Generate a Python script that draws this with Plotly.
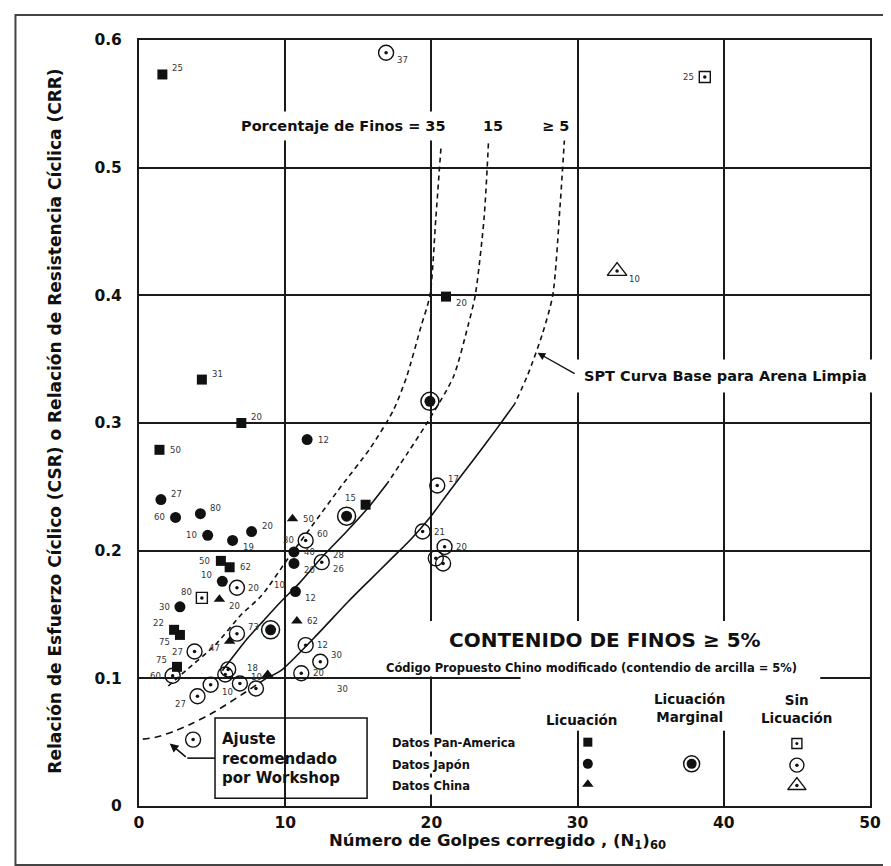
import plotly.graph_objects as go

# ---------------- data ----------------
# Curves: (N1)60 vs CRR
c35_n = [20.65, 20.3, 19.9, 19.3, 18.3, 17.4, 15.8, 13.8, 12.0, 10.2, 8.4, 7.0, 5.2, 3.2, 1.8]
c35_crr = [0.515, 0.46, 0.40, 0.376, 0.336, 0.310, 0.280, 0.250, 0.222, 0.194, 0.165, 0.150, 0.126, 0.106, 0.092]

c15_dash_n = [23.9, 23.6, 23.0, 22.5, 21.5, 19.7, 18.4, 17.0]
c15_dash_crr = [0.519, 0.46, 0.40, 0.376, 0.336, 0.300, 0.277, 0.253]
c15_solid_n = [17.0, 15.7, 14.2, 12.6, 11.0, 9.7, 8.5, 7.4, 5.7]
c15_solid_crr = [0.253, 0.234, 0.215, 0.196, 0.175, 0.160, 0.145, 0.131, 0.106]

base_dash_n = [29.1, 28.8, 28.3, 27.6, 26.6, 25.7]
base_dash_crr = [0.522, 0.47, 0.40, 0.370, 0.338, 0.315]
base_solid_n = [25.7, 24.5, 22.8, 21.2, 19.9, 18.6, 17.2, 15.7, 14.3, 12.0, 9.7, 8.7]
base_solid_crr = [0.315, 0.296, 0.270, 0.246, 0.226, 0.209, 0.193, 0.176, 0.160, 0.132, 0.106, 0.100]

ajuste_n = [8.7, 7.0, 5.2, 3.7, 2.5, 1.2, 0.0]
ajuste_crr = [0.100, 0.087, 0.074, 0.065, 0.059, 0.054, 0.052]

# Case histories
pa_liq_n = [1.6, 4.3, 7.0, 1.4, 21.0, 15.5, 5.6, 6.2, 2.4, 2.8, 2.6]
pa_liq_crr = [0.573, 0.334, 0.300, 0.279, 0.399, 0.236, 0.192, 0.187, 0.138, 0.134, 0.109]
pa_liq_lbl = ["25", "31", "20", "50", "20", "15", "50", "62", "22", "75", "75"]

pa_no_n = [38.7, 4.3]
pa_no_crr = [0.571, 0.163]
pa_no_lbl = ["25", "80"]

jp_liq_n = [11.5, 1.5, 2.5, 4.2, 4.7, 6.4, 7.7, 10.6, 10.6, 5.7, 10.7, 2.8]
jp_liq_crr = [0.287, 0.240, 0.226, 0.229, 0.212, 0.208, 0.215, 0.199, 0.190, 0.176, 0.168, 0.156]
jp_liq_lbl = ["12", "27", "60", "80", "10", "19", "20", "40", "20", "10", "12|10", "30"]

jp_marg_n = [19.9, 14.2, 9.0]
jp_marg_crr = [0.317, 0.227, 0.138]

jp_no_n = [16.9, 20.4, 11.4, 19.4, 20.9, 20.3, 20.8, 12.5, 6.7, 6.7, 3.8, 11.4, 12.4,
           11.1, 2.3, 6.1, 5.9, 4.9, 4.0, 6.9, 8.0, 3.7]
jp_no_crr = [0.590, 0.251, 0.208, 0.215, 0.203, 0.194, 0.190, 0.191, 0.171, 0.135, 0.121,
             0.126, 0.113, 0.104, 0.102, 0.107, 0.103, 0.095, 0.086, 0.096, 0.092, 0.052]
jp_no_lbl = ["37", "17", "60|30", "21", "20", "", "", "28|26", "20", "73", "27", "12", "30|30",
             "20", "60", "", "", "10", "27", "10", "", ""]

cn_liq_n = [10.5, 5.5, 6.2, 10.8, 8.8]
cn_liq_crr = [0.225, 0.162, 0.129, 0.145, 0.103]
cn_liq_lbl = ["50", "20", "47", "62", "18"]

cn_no_n = [32.7]
cn_no_crr = [0.419]
cn_no_lbl = ["10"]

# legend key symbols
key_sq_n, key_sq_crr = [30.7], [0.050]
key_ci_n, key_ci_crr = [30.7], [0.033]
key_tr_n, key_tr_crr = [30.7], [0.017]
key_marg_n, key_marg_crr = [37.8], [0.033]
key_nsq_n, key_nsq_crr = [45.0], [0.049]
key_nci_n, key_nci_crr = [45.0], [0.032]
key_ntr_n, key_ntr_crr = [45.0], [0.016]

x_ticks = [0, 10, 20, 30, 40, 50]
y_ticks = [0, 0.1, 0.2, 0.3, 0.4, 0.5, 0.6]
y_tick_text = ["0", "0.1", "0.2", "0.3", "0.4", "0.5", "0.6"]

# ---------------- styles ----------------
pa_liq_pos = ["ur", "ur", "ur", "r", "lr", "ul", "l", "r", "ul", "ll", "ul"]
pa_no_pos = ["l", "ul"]
jp_liq_pos = ["r", "ur", "l", "ur", "l", "lr", "ur", "r", "lr", "ul", "lr|ul", "l"]
jp_no_pos = ["lr", "ur", "ur|l", "r", "r", "", "", "ur|lr", "r", "ur", "l", "r", "ur|b",
             "r", "l", "", "", "lr", "ll", "ur", "", ""]
cn_liq_pos = ["r", "lr", "ll", "r", "ul"]
cn_no_pos = ["lr"]

FONT = "DejaVu Sans, Verdana, sans-serif"
INK = "#111111"
DIRS = {"ur": (1.0, 0.75, "left"), "r": (1.05, 0.0, "left"), "lr": (1.0, -0.8, "left"),
        "l": (-1.05, 0.0, "right"), "ul": (-1.0, 0.8, "right"), "ll": (-1.0, -0.85, "right")}

fig = go.Figure()


def curve(xs, ys, dash):
    fig.add_trace(go.Scatter(x=xs, y=ys, mode="lines", hoverinfo="skip", showlegend=False,
                             line=dict(color=INK, width=1.6, dash=dash, shape="spline", smoothing=0.7)))


curve(c35_n, c35_crr, "5px,4px")
curve(c15_dash_n, c15_dash_crr, "5px,4px")
curve(c15_solid_n, c15_solid_crr, "solid")
curve(base_dash_n, base_dash_crr, "5px,4px")
curve(base_solid_n, base_solid_crr, "solid")
curve(ajuste_n, ajuste_crr, "7px,5px")


def pts(xs, ys, symbol, size, lw=0):
    fig.add_trace(go.Scatter(x=xs, y=ys, mode="markers", hoverinfo="skip", showlegend=False,
                             marker=dict(symbol=symbol, size=size, color=INK, opacity=1,
                                         line=dict(color=INK, width=lw))))


def dotted(xs, ys, symbol, size, dot):
    pts(xs, ys, symbol, size, lw=1.4)
    pts(xs, ys, "circle", dot)


def marginal(xs, ys, outer, inner):
    pts(xs, ys, "circle-open", outer, lw=1.5)
    pts(xs, ys, "circle", inner)


pts(pa_liq_n, pa_liq_crr, "square", 10)
pts(jp_liq_n, jp_liq_crr, "circle", 11)
pts(cn_liq_n, cn_liq_crr, "triangle-up", 10)
marginal(jp_marg_n, jp_marg_crr, 18, 11)
dotted(pa_no_n, pa_no_crr, "square-open", 11, 3.5)
dotted(jp_no_n, jp_no_crr, "circle-open", 15, 3.5)
dotted(cn_no_n, cn_no_crr, "triangle-up-open", 17, 3.5)

# legend key symbols
pts(key_sq_n, key_sq_crr, "square", 9)
pts(key_ci_n, key_ci_crr, "circle", 10)
pts(key_tr_n, key_tr_crr, "triangle-up", 10)
marginal(key_marg_n, key_marg_crr, 16, 10)
dotted(key_nsq_n, key_nsq_crr, "square-open", 10, 3)
dotted(key_nci_n, key_nci_crr, "circle-open", 14, 3.5)
dotted(key_ntr_n, key_ntr_crr, "triangle-up-open", 16, 3.5)

annotations = []


def labels(xs, ys, lbls, poss, rad):
    for x, y, lb, ps in zip(xs, ys, lbls, poss):
        if not lb:
            continue
        for t, p in zip(lb.split("|"), ps.split("|")):
            if p == "b":
                dx, dy, anc = 15, -27, "left"
            else:
                ux, uy, anc = DIRS[p]
                dx, dy = ux * rad, uy * rad
            annotations.append(dict(x=x, y=y, xref="x", yref="y", text=t, showarrow=False,
                                    xanchor=anc, yanchor="middle", xshift=dx, yshift=dy,
                                    font=dict(family=FONT, size=8.5, color="#333333")))


labels(pa_liq_n, pa_liq_crr, pa_liq_lbl, pa_liq_pos, 8)
labels(pa_no_n, pa_no_crr, pa_no_lbl, pa_no_pos, 8)
labels(jp_liq_n, jp_liq_crr, jp_liq_lbl, jp_liq_pos, 8)
labels(jp_no_n, jp_no_crr, jp_no_lbl, jp_no_pos, 9)
labels(cn_liq_n, cn_liq_crr, cn_liq_lbl, cn_liq_pos, 8)
labels(cn_no_n, cn_no_crr, cn_no_lbl, cn_no_pos, 10)


def txt(x, y, t, size, anchor="center", bg=None, pad=1, xref="x", yref="y", align="center", angle=0):
    d = dict(x=x, y=y, xref=xref, yref=yref, text=t, showarrow=False, xanchor=anchor, yanchor="middle",
             align=align, textangle=angle,
             font=dict(family=FONT, size=size, color=INK, weight="bold"))
    if bg:
        d.update(bgcolor=bg, borderpad=pad)
    annotations.append(d)


# Fines content labels
txt(21.45, 0.533, "Porcentaje de Finos = 35", 14.5, anchor="right", bg="white", pad=6)
txt(24.2, 0.533, "15", 14.5, bg="white", pad=6)
txt(28.5, 0.533, "≥ 5", 14.5, bg="white", pad=6)

# SPT base curve label
txt(29.8, 0.337, "SPT Curva Base para Arena Limpia", 14.5, anchor="left", bg="white", pad=8)
annotations.append(dict(x=27.26, y=0.355, xref="x", yref="y", ax=29.9, ay=0.338, axref="x", ayref="y",
                        text="", showarrow=True, arrowhead=2, arrowsize=1.1, arrowwidth=1.4, arrowcolor=INK))

# Fines content box texts
txt(31.85, 0.130, "CONTENIDO DE FINOS ≥ 5%", 20, bg="white", pad=2)
txt(30.95, 0.108, "Código Propuesto Chino modificado (contendio de arcilla = 5%)", 11.5, bg="white", pad=1)
txt(30.3, 0.067, "Licuación", 13.5)
txt(37.65, 0.077, "Licuación<br>Marginal", 13.5)
txt(45.0, 0.076, "Sin<br>Licuación", 13.5)
txt(17.15, 0.049, "Datos Pan-America", 11.5, anchor="left", bg="white")
txt(17.15, 0.032, "Datos Japón", 11.5, anchor="left", bg="white")
txt(17.15, 0.016, "Datos China", 11.5, anchor="left", bg="white")

# Workshop adjustment box
txt(5.55, 0.037, "Ajuste<br>recomendado<br>por Workshop", 15, anchor="left", align="left")
annotations.append(dict(x=2.1, y=0.049, xref="x", yref="y", ax=3.3, ay=0.0375, axref="x", ayref="y",
                        text="", showarrow=True, arrowhead=2, arrowsize=1.1, arrowwidth=1.6, arrowcolor=INK))

# axis titles
txt(0.49, -0.046, "Número de Golpes corregido , (N<sub>1</sub>)<sub>60</sub>", 16.5, xref="paper", yref="paper")
txt(-0.115, 0.503, "Relación de Esfuerzo Cíclico (CSR) o Relación de Resistencia Cíclica (CRR)", 17,
    xref="paper", yref="paper", angle=-90)

shapes = [
    # white panels hiding grid behind the fines-content legend
    dict(type="rect", xref="x", yref="y", x0=19.6, x1=46.6, y0=0.102, y1=0.145,
         fillcolor="white", line=dict(width=0), layer="between"),
    dict(type="rect", xref="x", yref="y", x0=26.1, x1=46.6, y0=0.059, y1=0.145,
         fillcolor="white", line=dict(width=0), layer="between"),
    # workshop box and arrow tail
    dict(type="rect", xref="x", yref="y", x0=5.2, x1=15.6, y0=0.006, y1=0.069,
         line=dict(color=INK, width=1.5), fillcolor="rgba(0,0,0,0)"),
    dict(type="line", xref="x", yref="y", x0=3.3, x1=5.2, y0=0.0375, y1=0.0375,
         line=dict(color=INK, width=1.6)),
    # outer frame
    dict(type="rect", xref="paper", yref="paper", x0=-0.169, x1=1.0294, y0=-0.077, y1=1.0326,
         line=dict(color="#444444", width=2), fillcolor="rgba(0,0,0,0)"),
]

fig.update_layout(
    width=891, height=866,
    margin=dict(l=131, r=29, t=32, b=68),
    paper_bgcolor="white", plot_bgcolor="white",
    showlegend=False,
    annotations=annotations,
    shapes=shapes,
    xaxis=dict(range=[0, 50], tickvals=x_ticks, showgrid=True, gridcolor="#1a1a1a", gridwidth=2,
               zeroline=False, showline=True, linecolor="#1a1a1a", linewidth=2, mirror=True,
               ticks="", ticklabelstandoff=1,
               tickfont=dict(family=FONT, size=15.5, color=INK, weight="bold")),
    yaxis=dict(range=[0, 0.6], tickvals=y_ticks, ticktext=y_tick_text, showgrid=True,
               gridcolor="#1a1a1a", gridwidth=2, zeroline=False, showline=True, linecolor="#1a1a1a",
               linewidth=2, mirror=True, ticks="", ticklabelstandoff=12,
               tickfont=dict(family=FONT, size=15.5, color=INK, weight="bold")),
)

fig.write_html("out.html")
